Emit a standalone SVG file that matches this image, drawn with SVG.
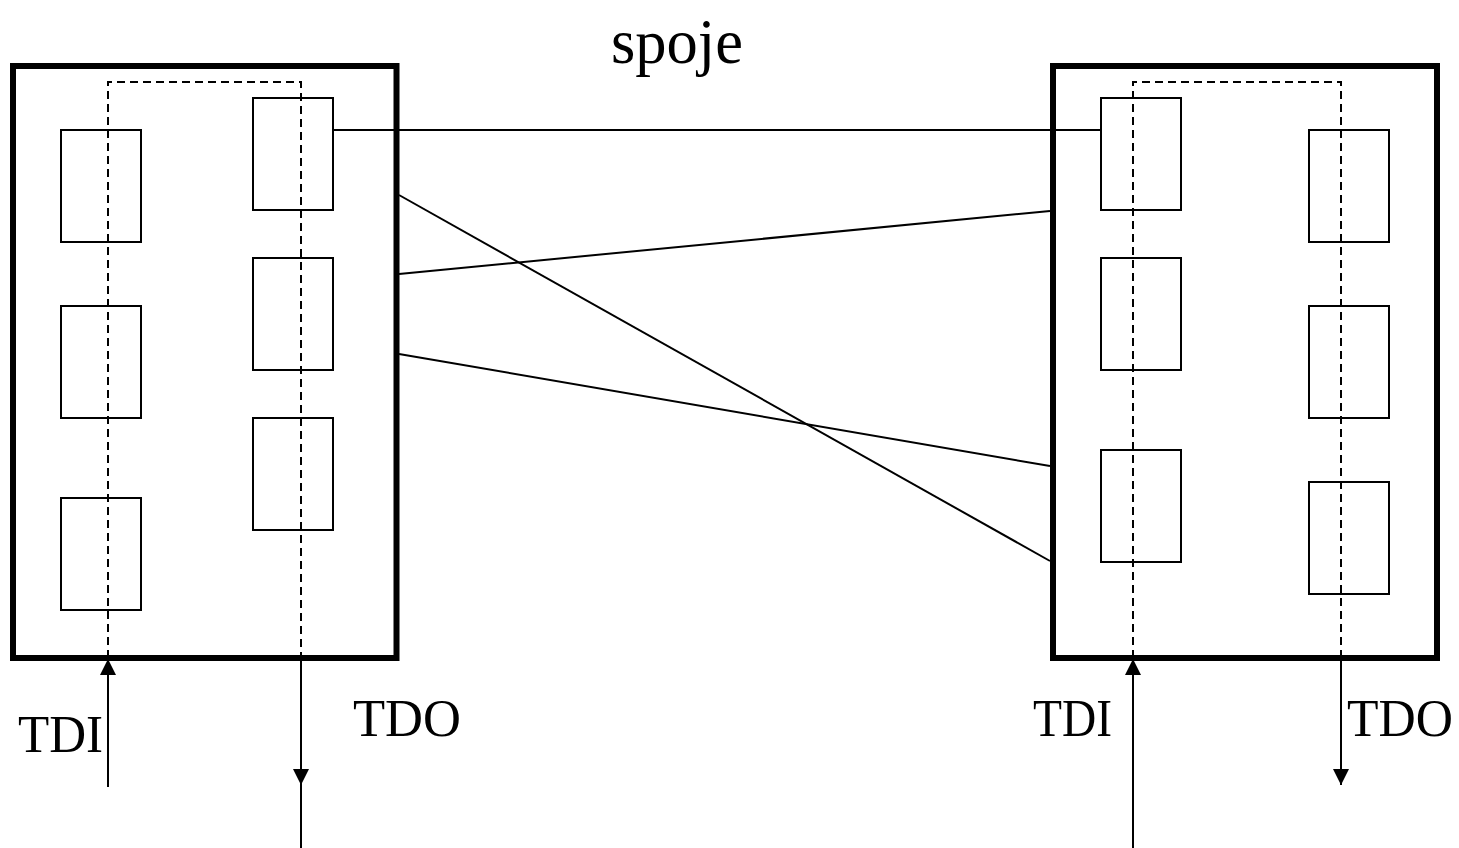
<svg xmlns="http://www.w3.org/2000/svg" width="1459" height="848" viewBox="0 0 1459 848">
<style>
.chip{fill:none;stroke:#000;stroke-width:6}
.cell{fill:none;stroke:#000;stroke-width:2}
.scan{fill:none;stroke:#000;stroke-width:2;stroke-dasharray:8 5}
.wire{fill:none;stroke:#000;stroke-width:2}
.lbl{font-family:"Liberation Serif","Times New Roman",serif;fill:#000}
</style>
<defs>
<marker id="ah" viewBox="0 0 16 16" refX="16" refY="8" markerWidth="16" markerHeight="16" markerUnits="userSpaceOnUse" orient="auto">
<path d="M0,0 L16,8 L0,16 Z" fill="#000"/>
</marker>
</defs>
<rect width="1459" height="848" fill="#fff"/>
<text class="lbl" x="611" y="63" font-size="63" textLength="132" lengthAdjust="spacingAndGlyphs">spoje</text>
<g id="chip-left">
<rect class="chip" x="13" y="66" width="383.5" height="592"/>
<rect class="cell" x="61" y="130" width="80" height="112"/>
<rect class="cell" x="61" y="306" width="80" height="112"/>
<rect class="cell" x="61" y="498" width="80" height="112"/>
<rect class="cell" x="253" y="98" width="80" height="112"/>
<rect class="cell" x="253" y="258" width="80" height="112"/>
<rect class="cell" x="253" y="418" width="80" height="112"/>
<path class="scan" d="M108,658 V82 H301 V658"/>
</g>
<g id="chip-right">
<rect class="chip" x="1053" y="66" width="384" height="592"/>
<rect class="cell" x="1101" y="98" width="80" height="112"/>
<rect class="cell" x="1101" y="258" width="80" height="112"/>
<rect class="cell" x="1101" y="450" width="80" height="112"/>
<rect class="cell" x="1309" y="130" width="80" height="112"/>
<rect class="cell" x="1309" y="306" width="80" height="112"/>
<rect class="cell" x="1309" y="482" width="80" height="112"/>
<path class="scan" d="M1133,658 V82 H1341 V658"/>
</g>
<g id="connectors">
<line class="wire" x1="333" y1="130" x2="1101" y2="130"/>
<line class="wire" x1="399" y1="195" x2="1050" y2="561"/>
<line class="wire" x1="399" y1="274" x2="1050" y2="211"/>
<line class="wire" x1="399" y1="354" x2="1050" y2="466"/>
<line class="wire" x1="108" y1="787" x2="108" y2="659" marker-end="url(#ah)"/>
<line class="wire" x1="301" y1="659" x2="301" y2="785" marker-end="url(#ah)"/>
<line class="wire" x1="301" y1="785" x2="301" y2="848"/>
<line class="wire" x1="1133" y1="848" x2="1133" y2="659" marker-end="url(#ah)"/>
<line class="wire" x1="1341" y1="659" x2="1341" y2="785" marker-end="url(#ah)"/>
</g>
<g id="labels">
<text class="lbl" x="18" y="752" font-size="53" textLength="85" lengthAdjust="spacingAndGlyphs">TDI</text>
<text class="lbl" x="353" y="736" font-size="53" textLength="108" lengthAdjust="spacingAndGlyphs">TDO</text>
<text class="lbl" x="1033" y="736" font-size="53" textLength="79" lengthAdjust="spacingAndGlyphs">TDI</text>
<text class="lbl" x="1347" y="736" font-size="53" textLength="106" lengthAdjust="spacingAndGlyphs">TDO</text>
</g>
</svg>
